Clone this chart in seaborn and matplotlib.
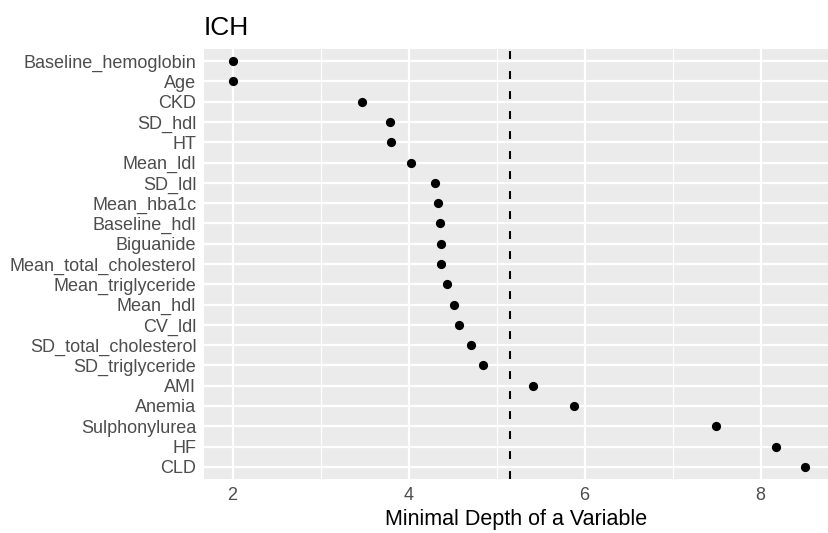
import matplotlib
matplotlib.use("Agg")
import matplotlib.pyplot as plt
import seaborn as sns
import pandas as pd
from matplotlib.ticker import MultipleLocator

variables = ["Baseline_hemoglobin", "Age", "CKD", "SD_hdl", "HT", "Mean_ldl", "SD_ldl",
             "Mean_hba1c", "Baseline_hdl", "Biguanide", "Mean_total_cholesterol",
             "Mean_triglyceride", "Mean_hdl", "CV_ldl", "SD_total_cholesterol",
             "SD_triglyceride", "AMI", "Anemia", "Sulphonylurea", "HF", "CLD"]
min_depth = [2.00, 2.01, 3.475, 3.79, 3.80, 4.025, 4.305, 4.335, 4.36, 4.366, 4.373,
             4.434, 4.517, 4.574, 4.71, 4.85, 5.41, 5.88, 7.495, 8.18, 8.51]
threshold = 5.153
x_ticks = [2, 4, 6, 8]
title = "ICH"
x_label = "Minimal Depth of a Variable"

df = pd.DataFrame({"variable": variables, "depth": min_depth})

sns.set_theme(style="darkgrid")
plt.rcParams["font.family"] = ["Liberation Sans", "DejaVu Sans"]

fig = plt.figure(figsize=(8.29, 5.33), dpi=100)
ax = fig.add_axes([204 / 829, 54 / 533, 625 / 829, 430 / 533])
ax.set_facecolor("#EBEBEB")

sns.scatterplot(data=df, x="depth", y="variable", ax=ax, color="black",
                s=44, edgecolor="black", linewidth=0, zorder=3)
ax.axvline(threshold, color="black", lw=1.5, linestyle=(0, (3.8, 5.8)), zorder=2)

ax.set_xlim(1.676, 8.778)
ax.set_ylim(len(variables) - 0.4, -0.6)
ax.set_xticks(x_ticks)
ax.xaxis.set_minor_locator(MultipleLocator(1))
ax.grid(which="major", color="white", linewidth=1.6)
ax.grid(which="minor", axis="x", color="white", linewidth=0.8)
ax.set_axisbelow(True)
for sp in ax.spines.values():
    sp.set_visible(False)

ax.tick_params(axis="both", which="major", length=3.5, width=1.1, color="#333333",
               labelsize=13, labelcolor="#4D4D4D", pad=2)
ax.tick_params(axis="x", which="minor", length=0)
ax.set_ylabel("")
ax.set_xlabel(x_label, fontsize=15.5, color="black", labelpad=4)
ax.set_title(title, loc="left", fontsize=19, color="black", pad=10)

fig.savefig("out.png", dpi=100)
